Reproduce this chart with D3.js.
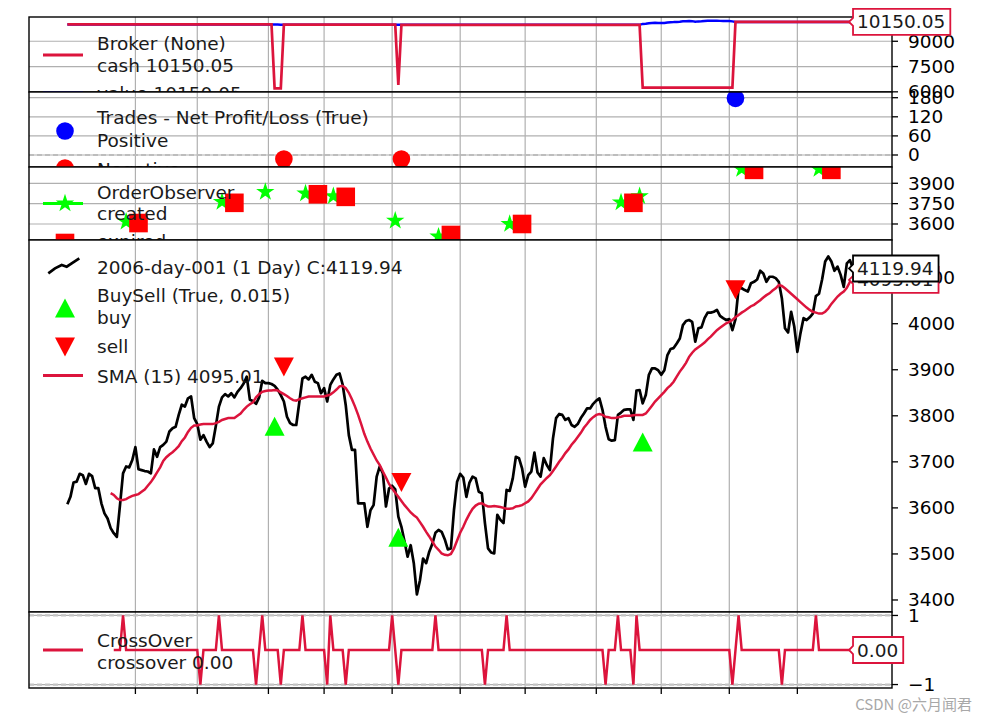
<!DOCTYPE html>
<html><head><meta charset="utf-8">
<script src="https://cdn.jsdelivr.net/npm/d3@7"></script>
<style>body{margin:0;background:#fff}svg{display:block}</style>
</head><body>
<svg id="c" width="989" height="721"></svg>
<script>
// ---------------- DATA ----------------
const dataName = "2006-day-001 (1 Day)";
const closes = [3608,3624,3655,3657,3674,3671,3652,3674,3669,3643,
3643,3610,3588,3577,3556,3545,3537,3605,3675,3690,
3688,3704,3732,3684,3682,3680,3679,3675,3727,3711,
3732,3737,3744,3766,3773,3776,3802,3824,3820,3838,
3842,3795,3782,3748,3758,3744,3732,3740,3778,3820,
3840,3847,3842,3849,3840,3852,3860,3870,3885,3835,
3832,3826,3840,3876,3871,3871,3869,3865,3857,3845,
3831,3798,3784,3780,3780,3830,3881,3885,3879,3889,
3874,3871,3849,3860,3831,3867,3879,3889,3892,3868,
3823,3758,3726,3726,3610,3610,3610,3559,3595,3606,
3668,3690,3675,3603,3642,3648,3640,3581,3559,3527,
3494,3519,3480,3412,3443,3490,3480,3505,3522,3546,
3552,3548,3532,3510,3512,3596,3657,3674,3666,3624,
3655,3668,3664,3635,3632,3567,3512,3503,3501,3585,
3574,3567,3639,3637,3664,3711,3708,3686,3646,3671,
3679,3720,3677,3668,3708,3693,3682,3751,3795,3804,
3802,3791,3795,3780,3776,3782,3795,3805,3816,3816,
3826,3833,3838,3813,3776,3749,3746,3747,3802,3807,
3813,3814,3814,3791,3855,3856,3827,3845,3889,3903,
3903,3899,3889,3899,3932,3945,3947,3957,3968,3997,
4006,4008,4004,3961,3990,3992,4012,4024,4024,4026,
4030,4017,4012,4008,4010,3986,4010,4077,4077,4073,
4070,4088,4091,4096,4115,4109,4091,4102,4102,4099,
4091,4055,3990,3981,4026,3994,3939,3979,4012,4008,
4014,4022,4060,4065,4096,4135,4146,4135,4115,4124,
4106,4080,4131,4138,4119.94];

const smaStart = 14;
const smaValues = [3632,3628,3621,3617,3617,3619,3623,3626,3628,3630,
3635,3640,3648,3656,3666,3677,3688,3702,3710,3716,
3721,3727,3734,3745,3753,3765,3774,3779,3779,3781,
3782,3782,3782,3782,3784,3787,3791,3793,3795,3795,
3795,3800,3805,3813,3820,3825,3829,3840,3847,3852,
3854,3855,3855,3856,3855,3851,3847,3843,3838,3834,
3833,3836,3838,3840,3842,3842,3842,3842,3842,3842,
3844,3846,3851,3857,3864,3865,3860,3850,3836,3820,
3802,3782,3761,3744,3729,3716,3703,3693,3679,3666,
3652,3642,3633,3624,3615,3606,3598,3590,3584,3579,
3569,3559,3548,3538,3527,3516,3509,3501,3498,3497,
3500,3512,3529,3546,3559,3574,3587,3598,3605,3609,
3610,3606,3603,3603,3604,3603,3602,3600,3598,3598,
3599,3603,3604,3606,3610,3614,3621,3631,3641,3651,
3658,3665,3671,3680,3690,3700,3709,3719,3727,3737,
3745,3754,3763,3774,3782,3791,3797,3802,3804,3802,
3798,3797,3795,3795,3797,3798,3800,3800,3800,3801,
3802,3802,3802,3805,3813,3822,3831,3838,3845,3852,
3860,3866,3874,3885,3896,3905,3915,3928,3937,3944,
3949,3954,3959,3966,3972,3979,3986,3991,3996,4001,
4004,4008,4014,4019,4024,4028,4033,4038,4041,4046,
4051,4057,4062,4066,4072,4077,4084,4082,4077,4071,
4065,4059,4053,4047,4041,4035,4030,4026,4024,4022,
4022,4026,4033,4043,4051,4059,4065,4070,4078,4091,
4095.01];

// x axis ticks (first trading day of each month, unlabeled)
const monthTickIdx = [22,42,65,83,105,127,148,171,192,214,236];

// BuySell observer
const buyIdx = [67,107,186];
const buyPx  = [3776,3535,3742];
const sellIdx = [70,108,216];
const sellPx  = [3907,3656,4075];

// Broker observer: cash level changes [index, cash], value while in position
const cashSteps = [[0,10000],[67,6210],[70,9987.5],[107,6406],[108,9975],[186,6245],[216,10150.05]];
const valueInPosIdx = [67,68,69,107,
  186,187,188,189,190,191,192,193,194,195,196,197,198,199,200,
  201,202,203,204,205,206,207,208,209,210,211,212,213,214,215];
const valueInPos = [10000,9995,9985,9978,
  10030,10045,10075,10090,10095,10090,10085,10090,10120,10135,10140,10150,10160,10185,10195,
  10200,10195,10160,10180,10185,10200,10215,10215,10218,10222,10210,10205,10200,10203,10180];

// Trades observer
const tradeIdx = [70,108,216];
const tradePnl = [-12.5,-12.5,178];

// OrderObserver
const createdIdx = [19,50,64,77,86,106,120,143,179,185,218,243];
const createdPx  = [3617,3763,3836,3825,3805,3624,3507,3600,3759,3805,4005,4005];
const expiredIdx = [23,54,81,90,124,147,183,222,247];
const expiredPx  = [3607,3756,3819,3800,3519,3600,3756,3999,3999];

// CrossOver indicator events
const crossStart = 15;
const crossUpIdx = [18,49,63,76,85,105,119,142,178,184,217,242];
const crossDownIdx = [43,61,69,84,90,107,135,174,183,215,231];

// axis ticks
const brokerTicks = [6000,7500,9000];
const tradeTicks = [0,60,120,180];
const orderTicks = [3600,3750,3900];
const mainTicks = [3400,3500,3600,3700,3800,3900,4000,4100];
const crossTicks = [-1,1];

// ---------------- DERIVED SERIES ----------------
const N = closes.length;
const sma = closes.map((_, i) => i < smaStart ? null : smaValues[i - smaStart]);
const cash = closes.map((_, i) => { let v = cashSteps[0][1]; cashSteps.forEach(s => { if (i >= s[0]) v = s[1]; }); return v; });
const value = cash.map((c, i) => { const k = valueInPosIdx.indexOf(i); return k >= 0 ? valueInPos[k] : c; });
const cross = closes.map((_, i) => i < crossStart ? null : (crossUpIdx.includes(i) ? 1 : crossDownIdx.includes(i) ? -1 : 0));

// ---------------- LAYOUT ----------------
const L = 29, R = 892;
const FONT = '"DejaVu Sans", "Liberation Sans", sans-serif';
const FS = 18.5;
const CRIMSON = '#dc143c';
const GRID = '#b0b0b0';
const svg = d3.select('#c');
svg.append('rect').attr('width', 989).attr('height', 721).attr('fill', '#fff');
const x = d3.scaleLinear().domain([-12.4, 266.6]).range([L, R]);

function panel(id, top, bottom, domain, ticks, hgrid, tickFmt) {
  const y = d3.scaleLinear().domain(domain).range([bottom, top]);
  const g = svg.append('g');
  g.append('rect').attr('x', L).attr('y', top).attr('width', R - L).attr('height', bottom - top).attr('fill', '#fff');
  const cp = svg.append('clipPath').attr('id', 'clip-' + id);
  cp.append('rect').attr('x', L).attr('y', top).attr('width', R - L).attr('height', bottom - top);
  const grid = g.append('g').attr('clip-path', `url(#clip-${id})`);
  monthTickIdx.forEach(t => grid.append('line').attr('x1', x(t)).attr('x2', x(t)).attr('y1', top).attr('y2', bottom)
    .attr('stroke', GRID).attr('stroke-width', 1.2));
  if (hgrid) ticks.forEach(t => grid.append('line').attr('x1', L).attr('x2', R).attr('y1', y(t)).attr('y2', y(t))
    .attr('stroke', GRID).attr('stroke-width', 1.2));
  const data = g.append('g').attr('clip-path', `url(#clip-${id})`);
  const frame = g.append('g');
  frame.append('rect').attr('x', L).attr('y', top).attr('width', R - L).attr('height', bottom - top)
    .attr('fill', 'none').attr('stroke', '#000').attr('stroke-width', 1.4);
  const ax = g.append('g');
  ticks.forEach(t => {
    ax.append('line').attr('x1', R).attr('x2', R + 6).attr('y1', y(t)).attr('y2', y(t)).attr('stroke', '#000').attr('stroke-width', 1.3);
    ax.append('text').attr('x', R + 16).attr('y', y(t)).attr('dominant-baseline', 'central')
      .attr('font-family', FONT).attr('font-size', FS).attr('fill', '#000').text(tickFmt ? tickFmt(t) : String(t));
  });
  const leg = g.append('g');
  const top2 = g.append('g');
  return { y, g, data, leg, top: top2, grid };
}

function legText(p, lines, x0) {
  lines.forEach(([t, yc]) => p.leg.append('text').attr('x', x0).attr('y', yc).attr('dominant-baseline', 'central')
    .attr('font-family', FONT).attr('font-size', FS).attr('fill', '#1a1a1a').text(t));
}
function legLine(p, yc, color, w) {
  p.leg.append('line').attr('x1', 43).attr('x2', 83).attr('y1', yc).attr('y2', yc).attr('stroke', color).attr('stroke-width', w || 3);
}
function tag(p, yc, text, stroke) {
  const xl = x(N - 1) - 4;
  const gg = p.top.append('g');
  const path = gg.append('path');
  const t = gg.append('text').attr('x', xl + 8).attr('y', yc).attr('dominant-baseline', 'central')
    .attr('font-family', FONT).attr('font-size', FS).attr('fill', '#1a1a1a').text(text);
  const w = t.node().getComputedTextLength();
  const x1 = xl + 8 + w + 5, y0 = yc - 13, y1 = yc + 13;
  path.attr('d', `M${xl + 4},${y0}L${x1},${y0}L${x1},${y1}L${xl + 4},${y1}L${xl + 4},${yc + 4}L${xl},${yc}L${xl + 4},${yc - 4}Z`)
    .attr('fill', '#fff').attr('stroke', stroke).attr('stroke-width', 1.8);
}
const triUp = (s) => `M0,${-s * 0.5}L${s * 0.5},${s * 0.45}L${-s * 0.5},${s * 0.45}Z`;
const triDown = (s) => `M0,${s * 0.5}L${s * 0.5},${-s * 0.45}L${-s * 0.5},${-s * 0.45}Z`;
const star = d3.symbol().type(d3.symbolStar).size(105)();
const fmt2 = d3.format('.2f');

// ---------- Panel 1: Broker ----------
const pB = panel('broker', 17, 92, [5990, 10440], brokerTicks, true);
const lineB = (arr) => d3.line().x((d, i) => x(i)).y(d => pB.y(d))(arr);
pB.data.append('path').attr('d', lineB(value)).attr('fill', 'none').attr('stroke', '#0000ff').attr('stroke-width', 2.5);
pB.data.append('path').attr('d', lineB(cash)).attr('fill', 'none').attr('stroke', CRIMSON).attr('stroke-width', 2.7);
legLine(pB, 55, CRIMSON);
legLine(pB, 93, '#0000ff');
legText(pB, [['Broker (None)', 43.5], ['cash ' + fmt2(cash[N - 1]), 65.5], ['value ' + fmt2(value[N - 1]), 93]], 97);
tag(pB, pB.y(cash[N - 1]), fmt2(cash[N - 1]), CRIMSON);

// ---------- Panel 2: Trades ----------
const pT = panel('trades', 92, 167, [-37.7, 197.9], tradeTicks, true);
pT.grid.append('line').attr('x1', L).attr('x2', R).attr('y1', pT.y(0)).attr('y2', pT.y(0))
  .attr('stroke', '#bdbdbd').attr('stroke-width', 1.8).attr('stroke-dasharray', '5,3');
tradeIdx.forEach((t, k) => pT.data.append('circle').attr('cx', x(t)).attr('cy', pT.y(tradePnl[k])).attr('r', 8.8)
  .attr('fill', tradePnl[k] >= 0 ? '#0000ff' : '#ff0000'));
pT.leg.append('circle').attr('cx', 65).attr('cy', 131).attr('r', 8.8).attr('fill', '#0000ff');
pT.leg.append('circle').attr('cx', 65).attr('cy', 168).attr('r', 8.8).attr('fill', '#ff0000');
legText(pT, [['Trades - Net Profit/Loss (True)', 117.5], ['Positive', 140], ['Negative', 169]], 97);

// ---------- Panel 3: OrderObserver ----------
const pO = panel('orders', 167, 240, [3482, 4020], orderTicks, true);
createdIdx.forEach((t, k) => pO.data.append('path').attr('d', star)
  .attr('transform', `translate(${x(t)},${pO.y(createdPx[k])})`).attr('fill', '#00ff00'));
expiredIdx.forEach((t, k) => pO.data.append('rect').attr('x', x(t) - 9.3).attr('y', pO.y(expiredPx[k]) - 9.3)
  .attr('width', 18.6).attr('height', 18.6).attr('fill', '#ff0000'));
legLine(pO, 203.5, '#00ff00');
pO.leg.append('path').attr('d', star).attr('transform', 'translate(65,203.5)').attr('fill', '#00ff00');
pO.leg.append('rect').attr('x', 65 - 9.3).attr('y', 243 - 9.3).attr('width', 18.6).attr('height', 18.6).attr('fill', '#ff0000');
legText(pO, [['OrderObserver', 192], ['created', 213.5], ['expired', 241]], 97);

// ---------- Panel 4: Main ----------
const pM = panel('main', 240, 612, [3373.9, 4181.8], mainTicks, false);
const lineM = d3.line().defined(d => d != null).x((d, i) => x(i)).y(d => pM.y(d));
pM.data.append('path').attr('d', lineM(closes)).attr('fill', 'none').attr('stroke', '#000').attr('stroke-width', 2.7).attr('stroke-linejoin', 'round');
pM.data.append('path').attr('d', lineM(sma)).attr('fill', 'none').attr('stroke', CRIMSON).attr('stroke-width', 2.5);
buyIdx.forEach((t, k) => pM.data.append('path').attr('d', triUp(20)).attr('transform', `translate(${x(t)},${pM.y(buyPx[k])})`).attr('fill', '#00ff00'));
sellIdx.forEach((t, k) => pM.data.append('path').attr('d', triDown(20)).attr('transform', `translate(${x(t)},${pM.y(sellPx[k])})`).attr('fill', '#ff0000'));
pM.leg.append('path').attr('d', 'M48.3,273.3L55,268.3L61.7,265L66.7,266.7L71.7,263.3L79.3,258.3')
  .attr('fill', 'none').attr('stroke', '#000').attr('stroke-width', 2.7);
pM.leg.append('path').attr('d', triUp(20)).attr('transform', 'translate(65,308.5)').attr('fill', '#00ff00');
pM.leg.append('path').attr('d', triDown(20)).attr('transform', 'translate(65,346.5)').attr('fill', '#ff0000');
legLine(pM, 375.5, CRIMSON);
legText(pM, [[dataName + ' C:' + fmt2(closes[N - 1]), 267], ['BuySell (True, 0.015)', 295], ['buy', 317.5], ['sell', 346], ['SMA (15) ' + fmt2(sma[N - 1]), 376]], 97);
tag(pM, pM.y(sma[N - 1]), fmt2(sma[N - 1]), CRIMSON);
tag(pM, pM.y(closes[N - 1]), fmt2(closes[N - 1]), '#000');

// ---------- Panel 5: CrossOver ----------
const pC = panel('cross', 612, 688, [-1.1, 1.1], crossTicks, true, t => t < 0 ? '\u2212' + Math.abs(t) : String(t));
[1, -1].forEach(v => pC.grid.append('line').attr('x1', L).attr('x2', R).attr('y1', pC.y(v)).attr('y2', pC.y(v))
  .attr('stroke', '#c4c4c4').attr('stroke-width', 2.2).attr('stroke-dasharray', '5,3'));
const lineC = d3.line().defined(d => d != null).x((d, i) => x(i)).y(d => pC.y(d));
pC.data.append('path').attr('d', lineC(cross)).attr('fill', 'none').attr('stroke', CRIMSON).attr('stroke-width', 2.5);
legLine(pC, 650, CRIMSON);
legText(pC, [['CrossOver', 640], ['crossover ' + fmt2(cross[N - 1]), 662]], 97);
tag(pC, pC.y(cross[N - 1]), fmt2(cross[N - 1]), CRIMSON);
monthTickIdx.forEach(t => svg.append('line').attr('x1', x(t)).attr('x2', x(t)).attr('y1', 688).attr('y2', 694)
  .attr('stroke', '#000').attr('stroke-width', 1.3));

// watermark
svg.append('text').attr('x', 972).attr('y', 703).attr('text-anchor', 'end').attr('dominant-baseline', 'central')
  .attr('font-family', '"Noto Sans CJK SC", sans-serif').attr('font-size', 15).attr('fill', '#a8a8a8').text('CSDN @六月闻君');
</script>
</body></html>
